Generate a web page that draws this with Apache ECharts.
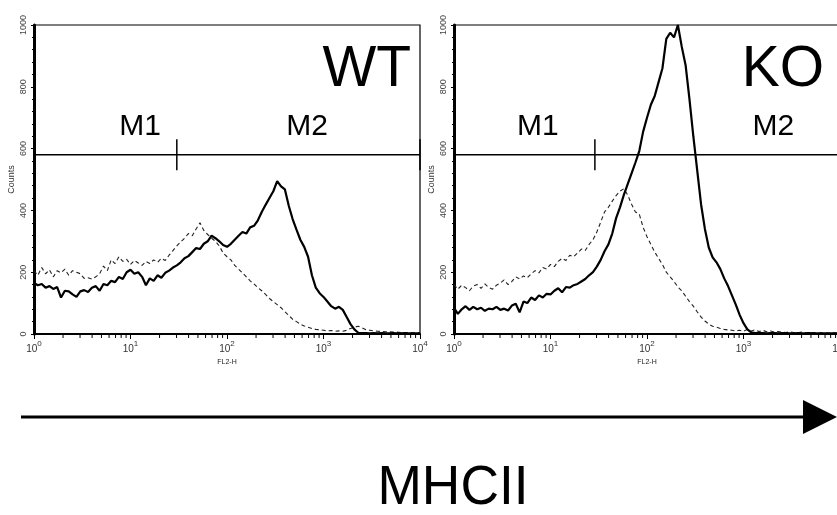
<!DOCTYPE html>
<html><head><meta charset="utf-8">
<script src="https://cdn.jsdelivr.net/npm/echarts@6/dist/echarts.min.js"></script>
<style>html,body{margin:0;padding:0;background:#fff}#c{width:837px;height:515px}</style>
</head><body><div id="c"></div>
<script>
// FL2-H channel grid in log10 decades (0 .. 4, step 0.04)
const decadeStep = 0.04;
const wtStained = [165,158,162,150,155,146,152,118,140,138,128,120,138,142,136,150,155,140,162,158,
  172,168,185,178,200,208,195,200,185,158,180,172,190,182,198,205,215,222,232,245,
  252,265,278,275,292,300,318,310,300,288,282,292,305,318,330,325,345,350,368,395,
  418,440,462,495,478,468,415,372,338,305,282,250,190,150,132,120,105,90,82,88,
  78,55,32,15,4,3,3,2,3,2,3,2,2,3,2,2,3,2,2,2,2];
const wtControl = [205,190,215,195,208,185,205,198,210,190,205,200,195,180,182,178,185,195,220,205,
  240,228,250,235,242,225,238,230,222,235,228,240,232,245,238,255,270,285,298,310,
  325,318,340,360,335,322,310,300,285,262,250,240,222,210,198,185,172,162,150,140,
  128,115,105,95,85,72,60,48,40,32,26,22,18,15,14,12,10,11,9,10,
  9,12,18,22,25,20,14,12,10,9,8,7,7,6,6,5,5,5,4,4,4];
const koStained = [85,65,80,90,78,88,80,85,75,82,80,88,78,82,76,92,98,70,105,100,
  118,110,125,118,130,128,140,148,135,152,150,158,162,170,178,190,200,218,240,268,
  290,325,375,410,450,485,520,555,592,655,700,742,770,815,860,955,975,960,1000,930,
  870,760,640,530,420,340,280,248,232,210,180,155,125,95,62,35,15,5,3,4,
  3,2,3,3,2,3,3,2,2,3,2,2,3,2,2,2,2,2,2,2,2];
const koControl = [160,145,158,150,140,155,160,148,162,150,145,158,165,175,160,170,185,178,188,182,
  195,205,198,215,210,225,218,235,245,238,255,250,262,275,270,290,305,330,362,395,
  410,430,448,462,470,450,420,395,388,345,315,290,265,245,225,200,185,170,152,140,
  122,105,90,72,55,42,32,25,22,18,15,13,12,10,12,9,15,10,14,8,
  12,7,10,6,8,6,5,7,5,4,6,4,4,5,3,4,3,3,4,3,3];

const panelNames = ['WT', 'KO'];
const gateLevel = 580;              // marker bar height (counts)
const gateSplit = [1.48, 1.46];     // M1/M2 boundary (log10 decades, ~30)
const gateEnd = 4;                  // end of M2 range
const gateBar = [530, 630];         // vertical extent of the boundary tick
const markerNames = ['M1', 'M2'];
const markerX = [[1.10, 2.83], [0.87, 3.31]];
const markerY = 672;
const minorTicks = [];
for (let d = 0; d < 4; d++) for (let k = 2; k <= 9; k++) minorTicks.push(d + Math.log10(k));

const xs = wtStained.map((_, i) => +(i * decadeStep).toFixed(2));
const stained = [wtStained, koStained];
const control = [wtControl, koControl];

const FONT = 'Liberation Sans, Arial, Helvetica, sans-serif';
const grids = [0, 1].map(i => ({
  left: i === 0 ? 34 : 454, top: 25, width: 386, height: 309,
  outerBoundsMode: 'none', containLabel: false,
  show: true, borderColor: '#000', borderWidth: 1.2, backgroundColor: 'transparent'
}));

const xAxes = [0, 1].map(i => ({
  type: 'value', gridIndex: i, min: 0, max: 4, interval: 1,
  name: 'FL2-H', nameLocation: 'middle', nameGap: 13,
  nameTextStyle: { fontSize: 7, color: '#222', fontFamily: FONT },
  axisLine: { show: true, lineStyle: { color: '#000', width: 2 } },
  axisTick: { show: true, inside: false, length: 5, lineStyle: { color: '#000', width: 1 } },
  splitLine: { show: false },
  axisLabel: {
    margin: 6, color: '#333', fontFamily: FONT, hideOverlap: false,
    formatter: v => '{b|10}{s|' + v + '}',
    rich: {
      b: { fontSize: 10, fontFamily: FONT, color: '#333', verticalAlign: 'bottom', lineHeight: 14 },
      s: { fontSize: 8, fontFamily: FONT, color: '#333', verticalAlign: 'top', lineHeight: 14 }
    }
  }
}));

const yAxes = [0, 1].map(i => ({
  type: 'value', gridIndex: i, min: 0, max: 1000, interval: 200,
  name: 'Counts', nameLocation: 'middle', nameRotate: 90, nameGap: 18,
  nameTextStyle: { fontSize: 9, color: '#333', fontFamily: FONT },
  axisLine: { show: true, lineStyle: { color: '#000', width: 3 } },
  axisTick: { show: true, inside: false, length: 3, lineStyle: { color: '#000', width: 1 } },
  minorTick: { show: true, splitNumber: 5, length: 2, lineStyle: { color: '#000', width: 1 } },
  splitLine: { show: false },
  axisLabel: { rotate: 90, margin: 6, fontSize: 9, color: '#444', fontFamily: FONT,
    formatter: v => String(v) }
}));

const series = [];
[0, 1].forEach(i => {
  series.push({
    type: 'line', xAxisIndex: i, yAxisIndex: i, symbol: 'none', z: 2,
    data: xs.map((x, j) => [x, control[i][j]]),
    lineStyle: { color: '#222', width: 1.1, type: [4, 3] }
  });
  series.push({
    type: 'line', xAxisIndex: i, yAxisIndex: i, symbol: 'none', z: 3,
    data: xs.map((x, j) => [x, stained[i][j]]),
    lineStyle: { color: '#000', width: 2.2 }
  });
  series.push({
    type: 'line', xAxisIndex: i, yAxisIndex: i, symbol: 'none', z: 4,
    data: [[0, gateLevel], [gateEnd, gateLevel]],
    lineStyle: { color: '#000', width: 1.5 }
  });
  [gateSplit[i], gateEnd].forEach(gx => series.push({
    type: 'line', xAxisIndex: i, yAxisIndex: i, symbol: 'none', z: 4,
    data: [[gx, gateBar[0]], [gx, gateBar[1]]],
    lineStyle: { color: '#000', width: 1.5 }
  }));
  series.push({
    type: 'scatter', xAxisIndex: i, yAxisIndex: i, symbolSize: 0, z: 5,
    itemStyle: { opacity: 1 },
    data: markerNames.map((n, k) => ({ name: n, value: [markerX[i][k], markerY] })),
    label: { show: true, position: 'inside', formatter: p => p.name, fontSize: 30,
      color: '#000', opacity: 1, fontFamily: FONT }
  });
  series.push({
    type: 'custom', xAxisIndex: i, yAxisIndex: i, clip: false, z: 5,
    data: minorTicks.map(t => [t, 0]),
    renderItem: (params, api) => {
      const p = api.coord([api.value(0), 0]);
      return { type: 'line', shape: { x1: p[0], y1: p[1], x2: p[0], y2: p[1] + 4 },
               style: { stroke: '#000', lineWidth: 1 } };
    }
  });
});

const chart = echarts.init(document.getElementById('c'), null, { renderer: 'canvas' });
chart.setOption({
  backgroundColor: '#fff',
  animation: false,
  title: [
    { text: panelNames[0], right: 426, top: 42, padding: 0,
      textStyle: { fontSize: 57, fontWeight: 'normal', color: '#000', fontFamily: FONT } },
    { text: panelNames[1], right: 13, top: 42, padding: 0,
      textStyle: { fontSize: 57, fontWeight: 'normal', color: '#000', fontFamily: FONT } }
  ],
  grid: grids, xAxis: xAxes, yAxis: yAxes, series: series,
  graphic: [
    { type: 'line', shape: { x1: 21, y1: 417, x2: 806, y2: 417 }, style: { stroke: '#000', lineWidth: 3 } },
    { type: 'polygon', shape: { points: [[803, 400], [837, 417], [803, 434]] }, style: { fill: '#000' } },
    { type: 'text', x: 453, y: 489, scaleX: 0.97, style: { text: 'MHCII', fontSize: 55, fontFamily: FONT, fill: '#000',
      textAlign: 'center', textVerticalAlign: 'middle' } }
  ]
});
</script></body></html>
